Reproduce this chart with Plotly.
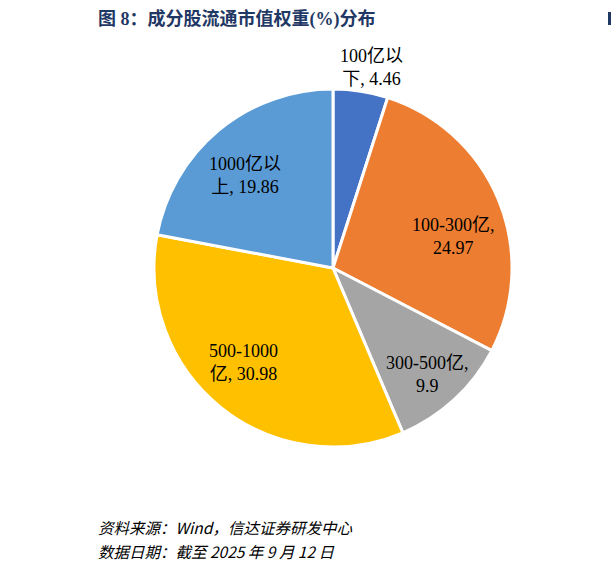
import plotly.graph_objects as go

categories = ["100亿以下", "100-300亿", "300-500亿", "500-1000亿", "1000亿以上"]
values = [4.46, 24.97, 9.9, 30.98, 19.86]
colors = ["#4472C4", "#ED7D31", "#A5A5A5", "#FFC000", "#5B9BD5"]
label_texts = ["100亿以<br>下, 4.46", "100-300亿,<br>24.97", "300-500亿,<br>9.9",
               "500-1000<br>亿, 30.98", "1000亿以<br>上, 19.86"]
label_pos = [(371, 67), (453, 237), (427, 374), (243, 362), (245, 175)]

W, H = 611, 570
cx, cy, r = 333, 268, 179

fig = go.Figure(go.Pie(
    labels=categories, values=values, sort=False, direction="clockwise", rotation=0,
    marker=dict(colors=colors, line=dict(color="white", width=3)),
    textinfo="none", hoverinfo="label+value", showlegend=False,
    domain=dict(x=[(cx - r) / W, (cx + r) / W], y=[1 - (cy + r) / H, 1 - (cy - r) / H]),
))

serif = "Liberation Serif, Times New Roman, Noto Sans CJK SC, serif"
for t, (x, y) in zip(label_texts, label_pos):
    fig.add_annotation(x=x / W, y=1 - y / H, xref="paper", yref="paper", text=t,
                       xanchor="center", yanchor="middle",
                       showarrow=False, align="center",
                       font=dict(family=serif, size=18, color="#000000"))

fig.add_annotation(x=96 / W, y=1 - 19 / H, xref="paper", yref="paper", xanchor="left",
                   yanchor="middle", text="<b>图 8：成分股流通市值权重(%)分布</b>", showarrow=False,
                   font=dict(family=serif, size=18, color="#1F3864"))
fig.add_annotation(x=96 / W, y=1 - 527 / H, xref="paper", yref="paper", xanchor="left",
                   yanchor="middle", text="<i>资料来源：Wind，信达证券研发中心</i>", showarrow=False,
                   font=dict(family="Noto Sans CJK SC, sans-serif", size=15.5, color="#000000"))
fig.add_annotation(x=96 / W, y=1 - 551 / H, xref="paper", yref="paper", xanchor="left",
                   yanchor="middle", text="<i>数据日期：截至 2025 年 9 月 12 日</i>", showarrow=False,
                   font=dict(family="Noto Sans CJK SC, sans-serif", size=15.5, color="#000000"))
fig.add_shape(type="rect", xref="paper", yref="paper", x0=608 / W, x1=1, y0=1 - 25 / H, y1=1 - 12 / H,
              fillcolor="#1F3864", line=dict(width=0))

fig.update_layout(width=W, height=H, margin=dict(l=0, r=0, t=0, b=0),
                  paper_bgcolor="white", plot_bgcolor="white")
fig.write_html("out.html", config={"displayModeBar": False},
               post_script="document.body.style.margin='0';document.body.style.overflow='hidden';")
